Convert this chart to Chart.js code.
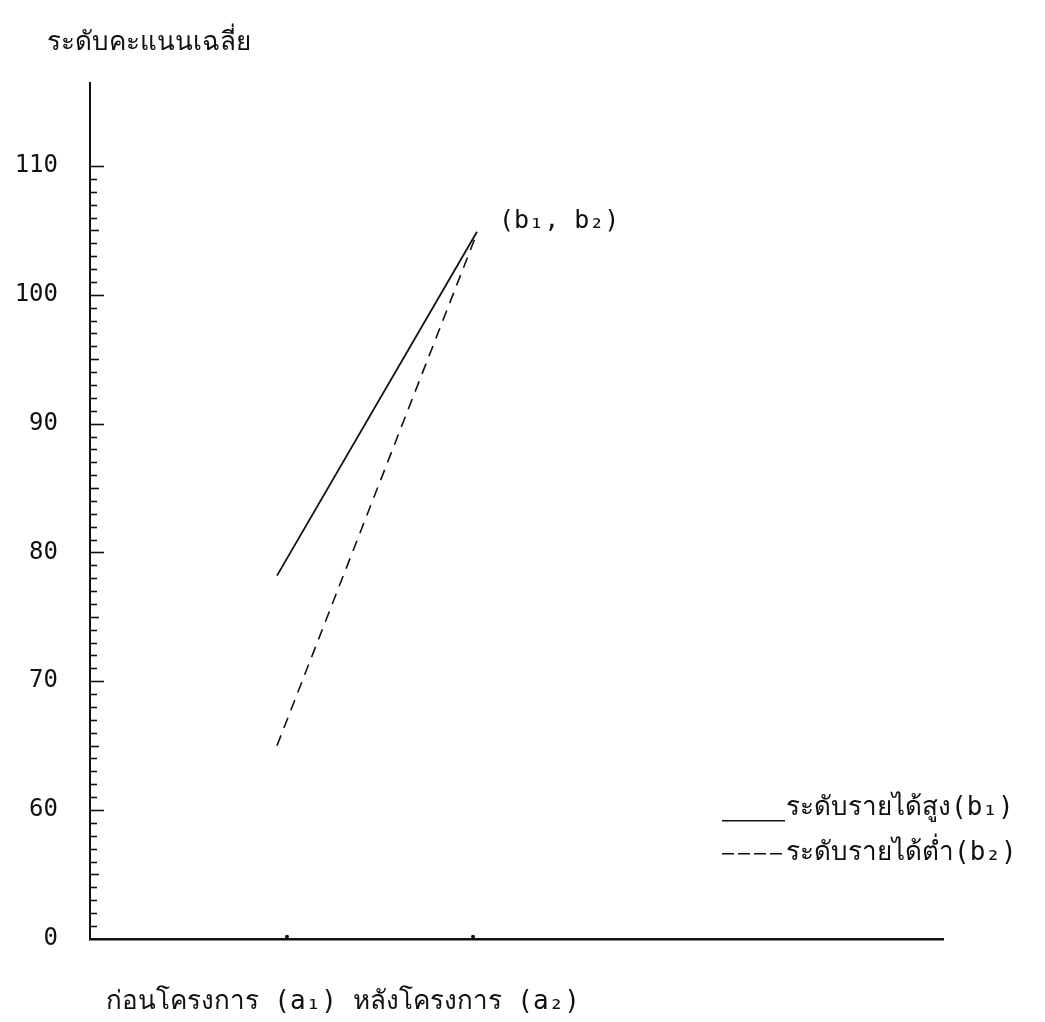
<!DOCTYPE html>
<html>
<head>
<meta charset="utf-8">
<script src="https://cdn.jsdelivr.net/npm/chart.js@4.4.1/dist/chart.umd.min.js"></script>
<style>
  html, body { margin: 0; padding: 0; background: #fff; }
  #wrap { width: 1045px; height: 1022px; }
</style>
</head>
<body>
<div id="wrap"><canvas id="c" width="1045" height="1022"></canvas></div>
<script>
// ---- data ----
const categories = ['ก่อนโครงการ (a₁)', 'หลังโครงการ (a₂)'];
const seriesNames = ['ระดับรายได้สูง(b₁)', 'ระดับรายได้ต่ำ(b₂)'];
const highIncome = [78.2, 104.9];
const lowIncome = [65.0, 104.8];
const yTickValues = [50, 60, 70, 80, 90, 100, 110];
const yTickLabels = ['0', '60', '70', '80', '90', '100', '110'];
const yTitle = 'ระดับคะแนนเฉลี่ย';
const xTitle = ' ก่อนโครงการ (a₁) หลังโครงการ (a₂)';
const pointLabel = '(b₁, b₂)';

const FONT = '"DejaVu Sans Mono", "Liberation Mono", "Noto Sans", sans-serif';

const toXY = arr => arr.map((v, i) => ({ x: i, y: v }));

const extras = {
  id: 'extras',
  afterDatasetsDraw(chart) {
    const { ctx, chartArea, scales: { x, y } } = chart;
    ctx.save();
    ctx.strokeStyle = '#111';
    ctx.fillStyle = '#111';
    // y-axis title at the top-left
    ctx.font = '26px ' + FONT;
    ctx.textAlign = 'left';
    ctx.textBaseline = 'middle';
    ctx.fillText(yTitle, chartArea.left - 43, chartArea.top - 40);
    // inward minor/major tick marks on y axis
    ctx.lineWidth = 1.6;
    const topTick = yTickValues[yTickValues.length - 1];
    for (let v = Math.ceil(y.min) + 1; v <= topTick; v++) {
      const py = Math.round(y.getPixelForValue(v)) + 0.5;
      const len = v % 10 === 0 ? 14 : (v % 5 === 0 ? 9 : 7);
      ctx.beginPath();
      ctx.moveTo(chartArea.left, py);
      ctx.lineTo(chartArea.left + len, py);
      ctx.stroke();
    }
    // small marks on x axis at category positions
    categories.forEach((c, i) => {
      const px = x.getPixelForValue(i) + (i === 0 ? 10 : -4);
      ctx.beginPath();
      ctx.arc(px, chartArea.bottom - 2, 2, 0, Math.PI * 2);
      ctx.fill();
    });
    // point label
    const ds = chart.data.datasets;
    const lx = x.getPixelForValue(1);
    const ly = y.getPixelForValue(highIncome[1]);
    ctx.font = '25px ' + FONT;
    ctx.fillText(pointLabel, lx + 22, ly - 10);
    // legend
    ctx.font = '26px ' + FONT;
    const legX = chartArea.right - 221;
    const rows = [chartArea.bottom - 131, chartArea.bottom - 86];
    ds.forEach((d, i) => {
      const ry = rows[i];
      ctx.lineWidth = 1.6;
      const dashed = d.borderDash && d.borderDash.length;
      ctx.setLineDash(dashed ? [12, 4] : []);
      ctx.beginPath();
      const sy = dashed ? ry + 1 : ry + 13;
      ctx.moveTo(legX, sy);
      ctx.lineTo(legX + 63, sy);
      ctx.stroke();
      ctx.setLineDash([]);
      ctx.fillText(d.label, legX + 64, ry);
    });
    ctx.restore();
  }
};

new Chart(document.getElementById('c'), {
  type: 'line',
  data: {
    datasets: [
      {
        label: seriesNames[0],
        data: toXY(highIncome),
        borderColor: '#111',
        borderWidth: 1.8,
        pointRadius: 0,
        fill: false,
        tension: 0
      },
      {
        label: seriesNames[1],
        data: toXY(lowIncome),
        borderColor: '#111',
        borderWidth: 1.6,
        borderDash: [11, 8],
        pointRadius: 0,
        fill: false,
        tension: 0
      }
    ]
  },
  options: {
    responsive: false,
    animation: false,
    layout: { padding: { left: 0, right: 102, top: 83, bottom: 0 } },
    plugins: {
      legend: { display: false },
      tooltip: { enabled: false },
      title: { display: false }
    },
    scales: {
      x: {
        type: 'linear',
        min: -0.935,
        max: 3.33,
        grid: { display: false },
        border: { display: true, color: '#111', width: 2.5 },
        ticks: { display: false },
        title: {
          display: true,
          text: xTitle,
          align: 'start',
          color: '#111',
          font: { family: FONT, size: 26 },
          padding: { top: 40, bottom: 4 }
        }
      },
      y: {
        type: 'linear',
        min: 50,
        max: 116.45,
        afterBuildTicks: s => { s.ticks = yTickValues.map(v => ({ value: v })); },
        afterFit: s => { s.width = 90; },
        grid: { display: false, drawTicks: false },
        border: { display: true, color: '#111', width: 2 },
        ticks: {
          color: '#111',
          padding: 32,
          font: { family: FONT, size: 24 },
          callback: v => yTickLabels[yTickValues.indexOf(v)]
        }
      }
    }
  },
  plugins: [extras]
});
</script>
</body>
</html>
